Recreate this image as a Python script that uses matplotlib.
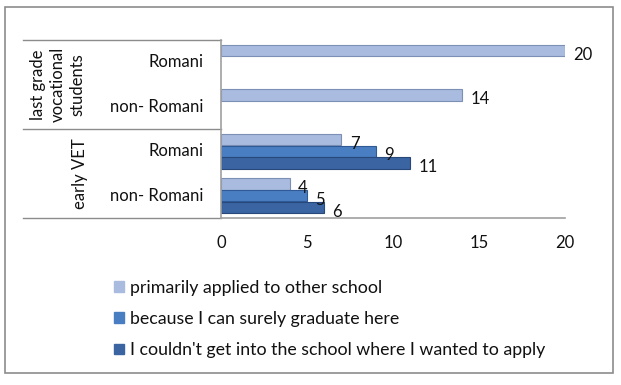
import numpy as np
import matplotlib
matplotlib.use('Agg')
import matplotlib.pyplot as plt
from matplotlib.lines import Line2D
from matplotlib.patches import Rectangle

plt.rcParams['font.family'] = ['Lato', 'DejaVu Sans']

# categories bottom -> top
categories = ['non- Romani', 'Romani', 'non- Romani', 'Romani']
groups = ['early VET', 'last grade\nvocational\nstudents']
series_names = ['primarily applied to other school',
                'because I can surely graduate here',
                "I couldn't get into the school where I wanted to apply"]
applied_other = [4, 7, 14, 20]
surely_graduate = [5, 9, np.nan, np.nan]
couldnt_get_in = [6, 11, np.nan, np.nan]
series = [applied_other, surely_graduate, couldnt_get_in]
colors = ['#A9BCE0', '#4A7EC2', '#3B64A3']
edges = ['#7C8FB5', '#2F5A96', '#28487A']
txt = '#111111'

fig = plt.figure(figsize=(6.21, 3.85), dpi=100)
fig.patches.append(Rectangle((5 / 621, 1 - 373 / 385), 608 / 621, 366 / 385,
                             transform=fig.transFigure, fill=False,
                             edgecolor='#8C8C8C', linewidth=1.2))

ax = fig.add_axes([221 / 621, 1 - 218 / 385, 344 / 621, 178 / 385])
y = np.arange(len(categories))
h = 0.265
for i, vals in enumerate(series):
    offs = (1 - i) * h
    ax.barh(y + offs, vals, height=h * 0.95, color=colors[i],
            edgecolor=edges[i], linewidth=0.8)
    for yy, v in zip(y + offs, vals):
        if not np.isnan(v):
            ax.annotate(f'{v:g}', (v, yy), xytext=(6, -3), textcoords='offset points',
                        va='center', ha='left', fontsize=12, color=txt)

ax.set_xlim(0, 20)
ax.set_ylim(-0.5, 3.5)
ax.set_xticks([0, 5, 10, 15, 20])
ax.tick_params(axis='x', length=0, labelsize=12, pad=12, colors=txt)
ax.set_yticks([])
for s in ['top', 'right']:
    ax.spines[s].set_visible(False)
for s in ['left', 'bottom']:
    ax.spines[s].set_color('#A0A0A0')
    ax.spines[s].set_linewidth(1.2)

# category table on the left
for yy in [3.5, 1.5, -0.5]:
    ax.add_line(Line2D([-198 / 17.2, 0], [yy, yy], color='#8C8C8C', lw=1,
                       clip_on=False))
for yy, lab in zip(y, categories):
    ax.text(-18 / 17.2, yy, lab, ha='right', va='center', fontsize=12,
            color=txt)
ax.text(-(221 - 80) / 17.2, 0.5, groups[0], rotation=90, ha='center',
        va='center', fontsize=12, color=txt)
ax.text(-(221 - 58) / 17.2, 2.5, groups[1], rotation=90, ha='center',
        va='center', fontsize=12, color=txt, linespacing=1.3)

# legend
handles = [Rectangle((0, 0), 1, 1, color=c) for c in colors]
fig.legend(handles, series_names, loc='upper left',
           bbox_to_anchor=(98 / 621, 1 - 264 / 385), frameon=False,
           fontsize=12.8, handlelength=0.55, handleheight=0.55, handletextpad=0.35,
           labelspacing=0.85, labelcolor=txt)

fig.savefig('out.png', dpi=100)
